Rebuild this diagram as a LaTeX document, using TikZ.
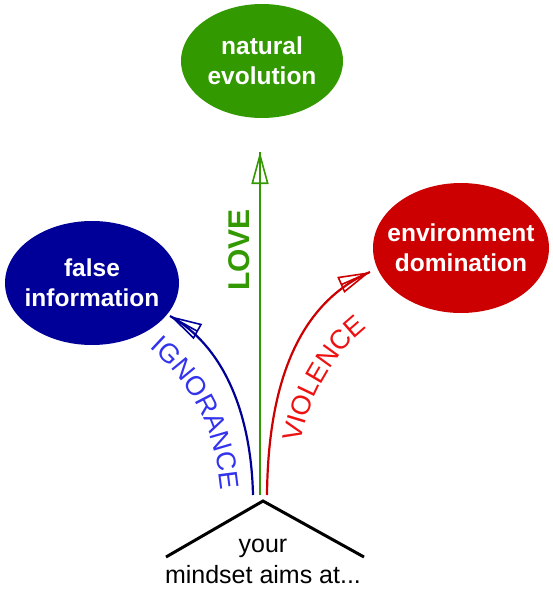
\documentclass[tikz,border=0pt]{standalone}
\usepackage{fontspec}
\setmainfont{Liberation Sans}
\usetikzlibrary{shapes.geometric,arrows.meta,decorations.text,calc}
\definecolor{evgreen}{HTML}{339900}
\definecolor{fiblue}{HTML}{000099}
\definecolor{igblue}{HTML}{3333EE}
\definecolor{edred}{HTML}{CC0000}
\definecolor{vired}{HTML}{EE1111}
\begin{document}
\begin{tikzpicture}[x=1pt,y=-1pt,
  goal/.style={ellipse, inner sep=-25pt, text=white, align=center,
    font=\fontsize{24.5}{30}\selectfont\bfseries},
  tipopen/.style={-{Triangle[open,length=32pt,width=17pt]}},
  lbl/.style={font=\fontsize{30}{30}\selectfont\bfseries}]
\useasboundingbox (0,0) rectangle (553,589);
% goals
\node[goal, fill=evgreen, minimum width=162pt, minimum height=114pt] (nat) at (262,61) {natural\\evolution};
\node[goal, fill=fiblue, minimum width=174pt, minimum height=124pt] (fal) at (92,283) {false\\information};
\node[goal, fill=edred, minimum width=176pt, minimum height=130pt] (env) at (461,248) {environment\\domination};
% coordinates
\coordinate (gs) at (260,495);
\coordinate (gt) at (260,152);
\coordinate (bs) at (253,495);
\coordinate (bc) at (222,345);
\coordinate (bt) at (170,316);
\coordinate (rs) at (267,495);
\coordinate (rc) at (295,305);
\coordinate (rt) at (370,272);
% green arrow
\draw[evgreen, line width=2.8pt] (gs) -- (gt);
\draw[evgreen, line width=1.6pt, tipopen] ($(gt)!2pt!(gs)$) -- (gt);
% blue arrow
\draw[fiblue, line width=2.2pt] (bs) .. controls (251,410) and (bc) .. (bt);
\draw[fiblue, line width=1.6pt, tipopen] ($(bt)!2pt!(bc)$) -- (bt);
% red arrow
\draw[edred, line width=2.2pt] (rs) .. controls (268,390) and (rc) .. (rt);
\draw[edred, line width=1.6pt, tipopen] ($(rt)!2pt!(rc)$) -- (rt);
% labels
\node[lbl, text=evgreen, rotate=90] (love) at (239,250) {LOVE};
\path[decorate, decoration={text along path, text align=center,
  text={|\fontsize{27}{27}\selectfont\color{igblue}|IGNORANCE}}]
  (141,340) .. controls (185,378) and (217,420) .. (222,502);
\path[decorate, decoration={text along path, text align=center,
  text={|\fontsize{27}{27}\selectfont\color{vired}|VIOLENCE}}]
  (298,460) .. controls (303,405) and (335,345) .. (382,318);
% root
\coordinate (apex) at (263,501);
\coordinate (tl) at (166,557);
\coordinate (tr) at (364,557);
\draw[black, line width=3pt, line join=miter] (tl) -- (apex) -- (tr);
\node[font=\fontsize{25}{31}\selectfont, align=center, inner sep=0pt] (root) at (263,561) {your\\mindset aims at...};
\end{tikzpicture}
\end{document}
